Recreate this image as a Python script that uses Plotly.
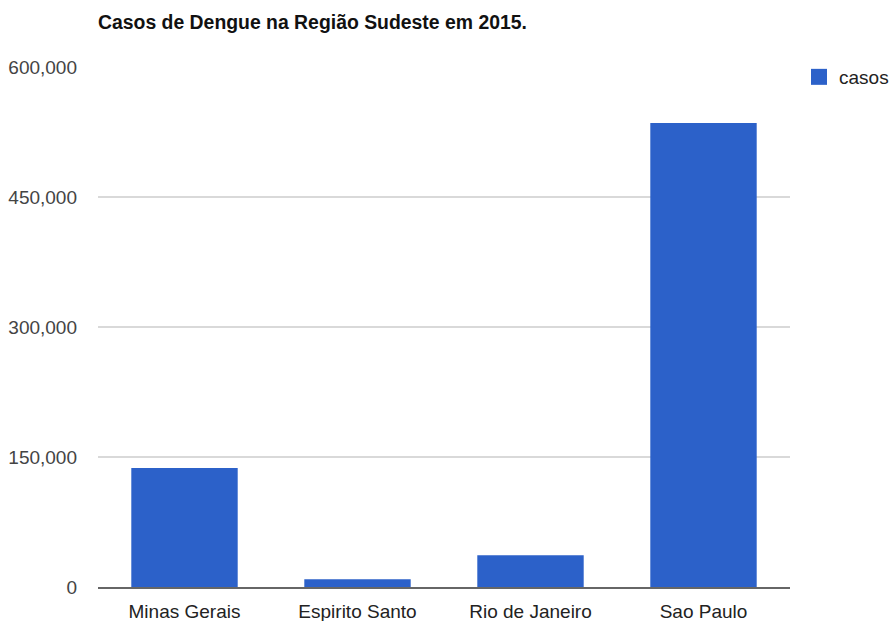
import plotly.graph_objects as go

estados = ["Minas Gerais", "Espirito Santo", "Rio de Janeiro", "Sao Paulo"]
casos = [137300, 8900, 36600, 535400]
y_ticks = [0, 150000, 300000, 450000, 600000]
y_tick_labels = ["0", "150,000", "300,000", "450,000", "600,000"]
serie = "casos"
cor = "#2c61c9"

fig = go.Figure()
fig.add_trace(go.Bar(x=estados, y=casos, name=serie, marker=dict(color=cor, line=dict(width=0)),
                     showlegend=False))
# legend entry with a larger square swatch
fig.add_trace(go.Scatter(x=[None], y=[None], mode="markers", name=serie,
                         marker=dict(symbol="square", size=18, color=cor), showlegend=True))

fig.update_layout(
    width=893, height=621,
    margin=dict(l=98, r=103, t=67, b=34, autoexpand=False),
    paper_bgcolor="white", plot_bgcolor="white",
    font=dict(family="Liberation Sans, Arial, sans-serif", size=19, color="#444"),
    title=dict(text="<b>Casos de Dengue na Região Sudeste em 2015.</b>", x=0, xref="paper",
               y=1 - 22/621, yref="container", yanchor="middle", xanchor="left",
               font=dict(size=19.4, color="#111")),
    bargap=0.385,
    showlegend=True,
    legend=dict(x=1.013, y=1 - 10/520, xanchor="left", yanchor="middle", font=dict(size=19, color="#222"),
                itemwidth=30, bgcolor="rgba(0,0,0,0)"),
    xaxis=dict(showgrid=False, showline=True, linecolor="#666", linewidth=1.5, automargin=False,
               ticks="", ticklabelstandoff=6, tickfont=dict(size=19, color="#222")),
    yaxis=dict(range=[0, 600000], tickvals=y_ticks, ticktext=y_tick_labels, showgrid=True,
               gridcolor="#d9d9d9", gridwidth=1.5, zeroline=False, showline=False, ticks="",
               automargin=False, ticklabelstandoff=20, tickfont=dict(size=19, color="#444")),
)

fig.write_html("out.html")
